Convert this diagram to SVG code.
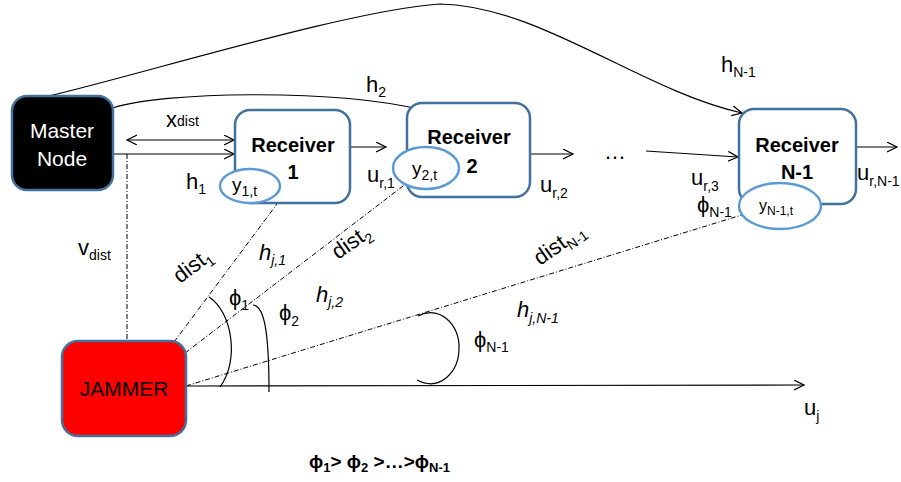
<svg xmlns="http://www.w3.org/2000/svg" width="901" height="482" viewBox="0 0 901 482">
<style>
  text { font-family: "Liberation Sans", Arial, sans-serif; fill: #000; }
  .node { stroke: #41719C; stroke-width: 2.5; }
  .ell { fill: #fff; stroke: #5B9BD5; stroke-width: 2.5; }
  .title { font-size: 20px; font-weight: bold; text-anchor: middle; }
  .lbl { font-size: 22px; }
  .sub { font-size: 14px; }
  .it { font-style: italic; }
  .line { fill: none; stroke: #000; stroke-width: 1.2; }
  .dd { fill: none; stroke: #000; stroke-width: 1; stroke-dasharray: 5 2 1 2; }
</style>
<defs>
  <marker id="arr" markerUnits="userSpaceOnUse" markerWidth="12" markerHeight="12" refX="10" refY="5" orient="auto-start-reverse">
    <path d="M0,0 L10,5 L0,10" fill="none" stroke="#000" stroke-width="1.2"/>
  </marker>
</defs>
<rect width="901" height="482" fill="#fff"/>

<g id="connectors">
  <path class="line" d="M49,96 C150,72 350,10 440,4 C540,6 640,90 742,113" marker-end="url(#arr)"/>
  <path class="line" d="M113,108 C160,92 330,88 423,110"/>
  <line class="line" x1="127" y1="140" x2="234" y2="140" marker-start="url(#arr)" marker-end="url(#arr)"/>
  <line class="line" x1="113" y1="154" x2="234" y2="154" marker-end="url(#arr)"/>
  <line class="dd" x1="127" y1="154" x2="127" y2="362"/>
  <line class="line" x1="337" y1="147" x2="386" y2="147" marker-end="url(#arr)"/>
  <line class="line" x1="523" y1="154" x2="573" y2="154" marker-end="url(#arr)"/>
  <line class="line" x1="646" y1="151" x2="738" y2="157" marker-end="url(#arr)"/>
  <line class="line" x1="856" y1="147" x2="897" y2="147" marker-end="url(#arr)"/>
  <line class="dd" x1="174" y1="342" x2="277" y2="204"/>
  <line class="dd" x1="185" y1="353" x2="407" y2="183"/>
  <line class="dd" x1="186" y1="386" x2="745" y2="214"/>
  <line class="line" x1="186" y1="386" x2="804" y2="385" marker-end="url(#arr)"/>
  <path class="line" d="M209,297 C232,312 240,360 220,387"/>
  <path class="line" d="M253,305 C264,306 269,330 269,392"/>
  <path class="line" d="M418,316 C440,305 460,325 459,348 C459,372 440,392 417,380"/>
</g>

<g id="master">
  <rect class="node" x="12" y="96" width="101" height="94" rx="15" fill="#000"/>
  <text x="62" y="138" font-size="21" text-anchor="middle" style="fill:#fff">Master</text>
  <text x="62" y="166" font-size="21" text-anchor="middle" style="fill:#fff">Node</text>
</g>

<g id="receiver1">
  <rect class="node" x="235" y="110" width="115" height="93" rx="15" fill="#fff"/>
  <text class="title" x="293" y="152">Receiver</text>
  <text class="title" x="293" y="179">1</text>
  <ellipse class="ell" cx="250" cy="186" rx="30" ry="17"/>
  <text x="232" y="191" font-size="19">y<tspan class="sub" dy="5">1,t</tspan></text>
</g>

<g id="receiver2">
  <rect class="node" x="407" y="103" width="123" height="94" rx="15" fill="#fff"/>
  <text class="title" x="469" y="144">Receiver</text>
  <ellipse class="ell" cx="426" cy="168" rx="33" ry="21"/>
  <text class="title" x="472" y="173">2</text>
  <text x="412" y="175" font-size="19">y<tspan class="sub" dy="5">2,t</tspan></text>
</g>

<g id="receiverN1">
  <rect class="node" x="739" y="109" width="117" height="95" rx="15" fill="#fff"/>
  <text class="title" x="797" y="152">Receiver</text>
  <text class="title" x="797" y="179">N-1</text>
  <ellipse class="ell" cx="780" cy="206" rx="41" ry="23"/>
  <text x="759" y="211" font-size="16">y<tspan font-size="12" dy="4">N-1,t</tspan></text>
</g>

<g id="jammer">
  <rect class="node" x="62" y="341" width="124" height="95" rx="16" fill="#FF0000"/>
  <text x="124" y="396" font-size="21" text-anchor="middle">JAMMER</text>
</g>

<g id="labels">
  <text class="lbl" x="166" y="127">x<tspan class="sub" dy="-1">dist</tspan></text>
  <text class="lbl" x="366" y="92">h<tspan class="sub" dy="5">2</tspan></text>
  <text class="lbl" x="721" y="72">h<tspan class="sub" dy="5">N-1</tspan></text>
  <text class="lbl" x="186" y="189">h<tspan class="sub" dy="5">1</tspan></text>
  <text class="lbl" x="78" y="255">v<tspan class="sub" dy="5">dist</tspan></text>
  <text class="lbl" x="367" y="182">u<tspan class="sub" dy="6">r,1</tspan></text>
  <text class="lbl" x="540" y="192">u<tspan class="sub" dy="6">r,2</tspan></text>
  <text class="lbl" x="604" y="159">…</text>
  <text class="lbl" x="691" y="185">u<tspan class="sub" dy="6">r,3</tspan></text>
  <text class="lbl" x="697" y="212">ϕ<tspan class="sub" dy="5">N-1</tspan></text>
  <text class="lbl" x="857" y="180">u<tspan class="sub" dy="6">r,N-1</tspan></text>
  <text class="lbl" transform="translate(180,284) rotate(-37)">dist<tspan class="sub" dy="5">1</tspan></text>
  <text class="lbl" transform="translate(338,260) rotate(-35)">dist<tspan class="sub" dy="5">2</tspan></text>
  <text class="lbl" transform="translate(540,266) rotate(-35)">dist<tspan class="sub" dy="5">N-1</tspan></text>
  <text class="lbl it" x="259" y="260">h<tspan class="sub" dy="5">j,1</tspan></text>
  <text class="lbl it" x="316" y="302">h<tspan class="sub" dy="5">j,2</tspan></text>
  <text class="lbl it" x="517" y="317">h<tspan class="sub" dy="6">j,N-1</tspan></text>
  <text class="lbl" x="229" y="305">ϕ<tspan class="sub" dy="5">1</tspan></text>
  <text class="lbl" x="279" y="320">ϕ<tspan class="sub" dy="6">2</tspan></text>
  <text class="lbl" x="474" y="347">ϕ<tspan class="sub" dy="5">N-1</tspan></text>
  <text class="lbl" x="804" y="415">u<tspan class="sub" dy="6">j</tspan></text>
  <text x="309" y="468" font-size="19" font-weight="bold">ϕ<tspan font-size="13" dy="4">1</tspan><tspan dy="-4">&gt; ϕ</tspan><tspan font-size="13" dy="4">2</tspan><tspan dy="-4"> &gt;…&gt;ϕ</tspan><tspan font-size="13" dy="4">N-1</tspan></text>
</g>
</svg>
